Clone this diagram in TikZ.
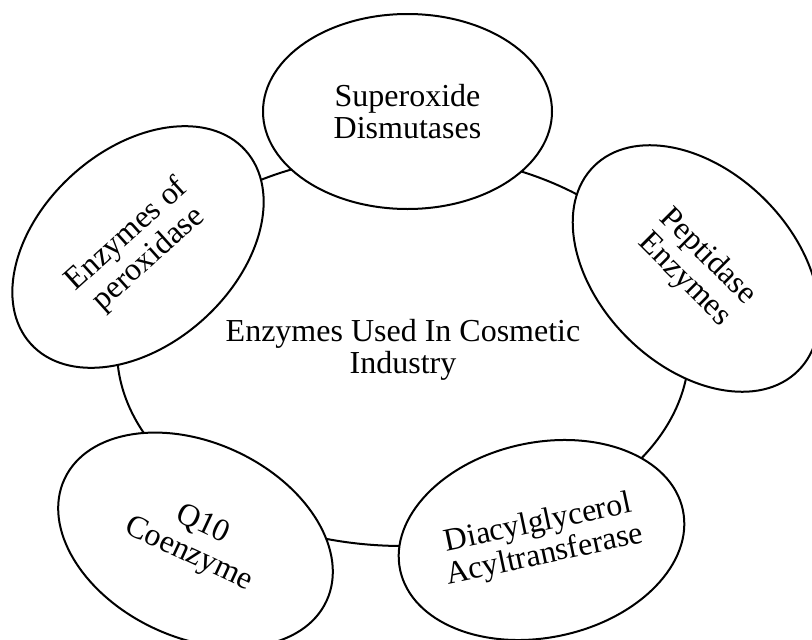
\documentclass[tikz,border=0pt]{standalone}
\usepackage{fontspec}
\setmainfont{Liberation Serif}
\usetikzlibrary{shapes.geometric}
\begin{document}
\begin{tikzpicture}[x=1pt,y=-1pt,
  outline/.style={draw=black, line width=2pt},
  hub/.style={outline, ellipse, inner sep=0pt,
    minimum width=572pt, minimum height=392pt,
    align=center, font=\fontsize{32}{32.4}\selectfont},
  enzyme/.style={outline, ellipse, fill=white, inner sep=0pt,
    minimum width=289pt, minimum height=195pt,
    align=center, font=\fontsize{32}{32.4}\selectfont}]
  \path[use as bounding box] (0,0) rectangle (812,640);
  \clip (0,0) rectangle (812,640);

  % central ring with the title
  \node[hub] (center) at (403,350) {Enzymes Used In Cosmetic\\Industry};

  % enzyme classes placed around the ring
  \node[enzyme] (sod) at (407.5,111.5) {Superoxide\\Dismutases};
  \node[enzyme, rotate=-45] (pep) at (696,268.5) {Peptidase\\Enzymes};
  \node[enzyme, rotate=12] (dgat) at (541.5,540) {Diacylglycerol\\Acyltransferase};
  \node[enzyme, rotate=-25] (q10) at (195.5,540) {Q10\\Coenzyme};
  \node[enzyme, rotate=42] (perox) at (138,247) {Enzymes of\\peroxidase};
\end{tikzpicture}
\end{document}
